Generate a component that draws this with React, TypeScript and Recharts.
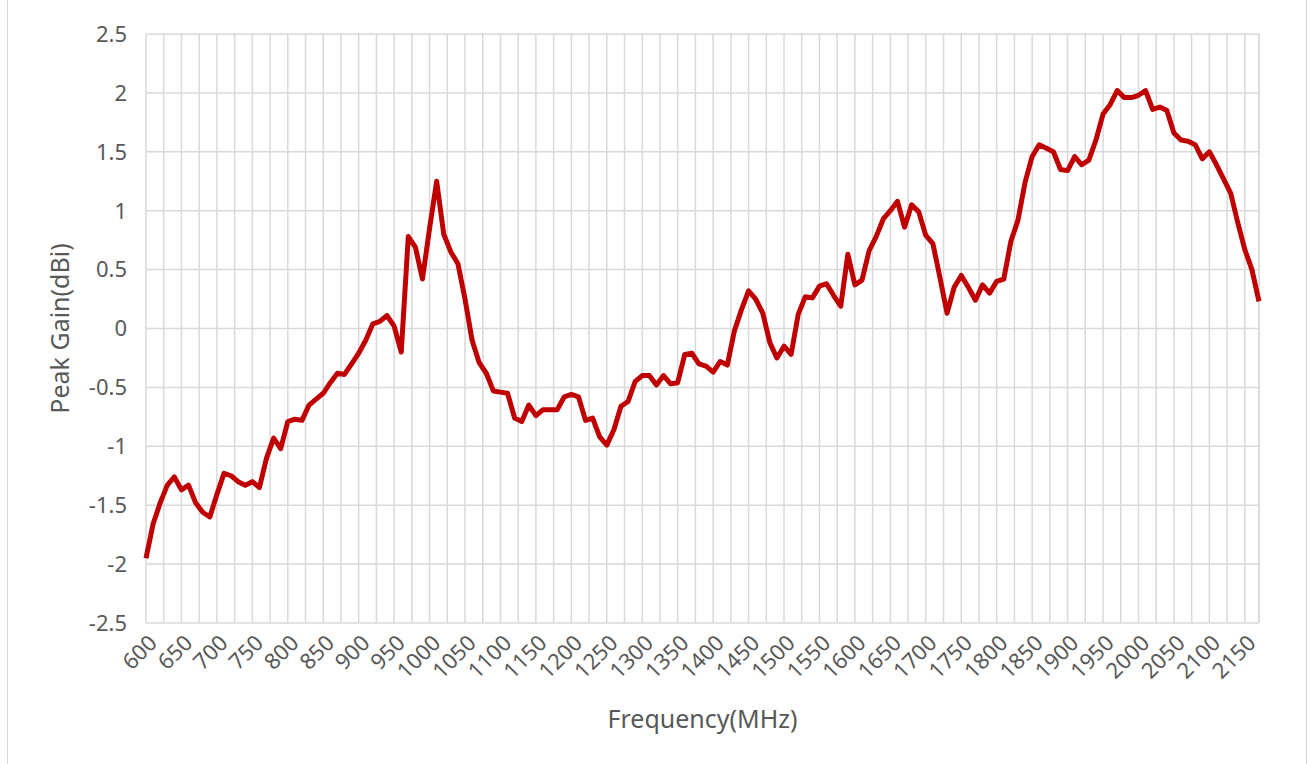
import { LineChart, Line, XAxis, YAxis, CartesianGrid, ReferenceLine } from "recharts";

// Peak gain in dBi, sampled every 10 MHz starting at 600 MHz
const START_FREQ = 600;
const STEP_FREQ = 10;
const peakGain = [
  -1.95, -1.66, -1.48, -1.33, -1.26, -1.37, -1.33, -1.48, -1.56, -1.6, // 600
  -1.41, -1.23, -1.25, -1.3, -1.33, -1.3, -1.35, -1.1, -0.93, -1.02, // 700
  -0.79, -0.77, -0.78, -0.65, -0.6, -0.55, -0.46, -0.38, -0.39, -0.3, // 800
  -0.21, -0.1, 0.04, 0.06, 0.11, 0.02, -0.2, 0.78, 0.69, 0.42, // 900
  0.85, 1.25, 0.8, 0.65, 0.55, 0.25, -0.1, -0.29, -0.38, -0.53, // 1000
  -0.54, -0.55, -0.76, -0.79, -0.65, -0.74, -0.69, -0.69, -0.69, -0.58, // 1100
  -0.56, -0.58, -0.78, -0.76, -0.92, -0.99, -0.86, -0.66, -0.62, -0.45, // 1200
  -0.4, -0.4, -0.48, -0.4, -0.47, -0.46, -0.22, -0.21, -0.3, -0.32, // 1300
  -0.37, -0.28, -0.31, -0.02, 0.16, 0.32, 0.25, 0.13, -0.12, -0.25, // 1400
  -0.15, -0.22, 0.12, 0.27, 0.26, 0.36, 0.38, 0.28, 0.19, 0.63, // 1500
  0.37, 0.41, 0.66, 0.78, 0.93, 1.0, 1.08, 0.86, 1.05, 0.99, // 1600
  0.79, 0.72, 0.43, 0.13, 0.35, 0.45, 0.35, 0.24, 0.37, 0.3, // 1700
  0.4, 0.42, 0.74, 0.92, 1.24, 1.46, 1.56, 1.53, 1.5, 1.35, // 1800
  1.34, 1.46, 1.39, 1.43, 1.6, 1.82, 1.9, 2.02, 1.96, 1.96, // 1900
  1.98, 2.02, 1.86, 1.88, 1.85, 1.66, 1.6, 1.59, 1.56, 1.44, // 2000
  1.5, 1.39, 1.27, 1.15, 0.9, 0.67, 0.5, 0.23, // 2100
];

const frequencies = peakGain.map((_, i) => START_FREQ + i * STEP_FREQ);
const X_MAX = frequencies[frequencies.length - 1];

// gridlines every 25 MHz, labels every 50 MHz
const xTicks = Array.from({ length: 63 }, (_, i) => 600 + i * 25);
const yTicks = [-2.5, -2, -1.5, -1, -0.5, 0, 0.5, 1, 1.5, 2, 2.5];

const data = frequencies.map((f, i) => ({ freq: f, gain: peakGain[i] }));

const TEXT = "#595959";
const GRID = "#d9d9d9";
const FONT = "'Noto Sans', sans-serif";

const XTick = ({ x, y, payload }: any) => {
  if (payload.value % 50 !== 0) return <g />;
  const ax = x + 6;
  const ay = y + 13;
  return (
    <text
      x={ax}
      y={ay}
      transform={`rotate(-45 ${ax} ${ay})`}
      textAnchor="end"
      dominantBaseline="central"
      fill={TEXT}
      fontSize={22}
      fontFamily={FONT}
    >
      {payload.value}
    </text>
  );
};

export default function App() {
  return (
    <div style={{ position: "absolute", left: 0, top: 0, width: 1309, height: 764, background: "#fff" }}>
      <div
        style={{
          position: "absolute",
          left: 7,
          top: 0,
          width: 1298,
          height: 764,
          borderLeft: `1px solid ${GRID}`,
          borderRight: `1px solid ${GRID}`,
        }}
      />
      <LineChart
        width={1309}
        height={764}
        data={data}
        margin={{ top: 34, right: 50, bottom: 0, left: 0 }}
        style={{ position: "absolute", left: 0, top: 0 }}
      >
        <CartesianGrid stroke={GRID} strokeWidth={1.5} />
        <XAxis
          dataKey="freq"
          type="number"
          domain={[600, X_MAX]}
          ticks={xTicks}
          interval={0}
          axisLine={false}
          tickLine={false}
          tickSize={0}
          height={141}
          tick={<XTick />}
          label={{
            value: "Frequency(MHz)",
            position: "insideBottom",
            offset: 36,
            fill: TEXT,
            fontSize: 25,
            fontFamily: FONT,
          }}
        />
        <YAxis
          type="number"
          domain={[-2.5, 2.5]}
          ticks={yTicks}
          interval={0}
          axisLine={false}
          tickLine={false}
          tickSize={0}
          tickMargin={19}
          width={146}
          tick={{ fill: TEXT, fontSize: 22, fontFamily: FONT }}
          label={{
            value: "Peak Gain(dBi)",
            angle: -90,
            position: "insideLeft",
            offset: 60,
            fill: TEXT,
            fontSize: 25,
            fontFamily: FONT,
            style: { textAnchor: "middle" },
          }}
        />
        <ReferenceLine x={X_MAX} stroke={GRID} strokeWidth={1.5} />
        <Line
          type="linear"
          dataKey="gain"
          stroke="#c00000"
          strokeWidth={5}
          strokeLinejoin="round"
          dot={false}
          isAnimationActive={false}
        />
      </LineChart>
    </div>
  );
}
